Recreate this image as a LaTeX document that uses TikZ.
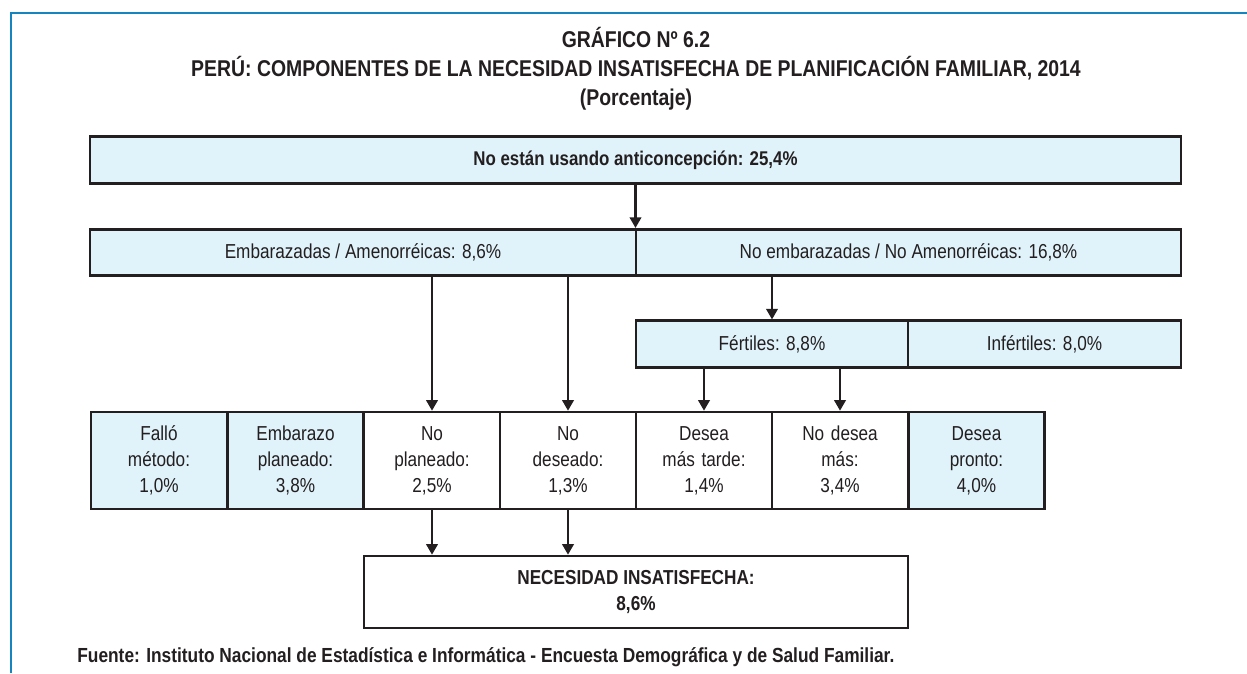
\documentclass[tikz,border=0pt]{standalone}
\usepackage{fontspec}
\setmainfont{Liberation Sans}[FakeStretch=0.85]
\usepackage{tikz}
\usetikzlibrary{positioning,arrows.meta,calc}
\definecolor{cellblue}{RGB}{224,242,250}
\definecolor{inkdark}{RGB}{35,31,32}
\definecolor{rimblue}{RGB}{22,132,190}
\tikzset{
  cell/.style={draw=inkdark,line width=1.5pt,inner sep=0pt,align=center,
    font=\fontsize{11.5}{14.8}\selectfont,text=inkdark},
  cellb/.style={cell,fill=cellblue},
  cellw/.style={cell,fill=white},
  wide/.style={minimum height=0.93cm},
  tall/.style={minimum width=2.724cm,minimum height=1.94cm,text width=2.6cm},
  flow/.style={-{Triangle[length=6pt,width=6.5pt]},line width=1.3pt,draw=inkdark},
  rim/.style={line width=1.3pt,draw=rimblue},
  ttl/.style={font=\bfseries\fontsize{13}{16.5}\selectfont,text=inkdark,align=center},
}
\begin{document}
\begin{tikzpicture}[x=0.02cm,y=-0.02cm]
  \useasboundingbox (0,0) rectangle (1247,673);
  % frame
  \draw[rim] (11,673) -- (11,13) -- (1247,13);
  % title
  \node[ttl] (title) at (636,69) {GRÁFICO Nº 6.2\\
    PERÚ: COMPONENTES DE LA NECESIDAD INSATISFECHA DE PLANIFICACIÓN FAMILIAR, 2014\\
    (Porcentaje)};
  % rows
  \node[cellb,wide,minimum width=21.82cm,font=\bfseries\fontsize{11.3}{14.8}\selectfont]
    (nouso) at (635.5,160) {No están usando anticoncepción: 25,4\%};
  \node[cellb,wide,minimum width=10.92cm] (emb) at (363,252.5) {Embarazadas / Amenorréicas: 8,6\%};
  \node[cellb,wide,minimum width=10.9cm] (noemb) at (908.5,252.5) {No embarazadas / No Amenorréicas: 16,8\%};
  \node[cellb,wide,minimum width=5.44cm] (fert) at (772,344) {Fértiles: 8,8\%};
  \node[cellb,wide,minimum width=5.46cm] (infert) at (1044.5,344) {Infértiles: 8,0\%};
  \node[cellb,tall] (fallo) at (159,460.5) {Falló\\método:\\1,0\%};
  \node[cellb,tall] (planea) at (295.5,460.5) {Embarazo\\planeado:\\3,8\%};
  \node[cellw,tall] (noplan) at (432,460.5) {No\\planeado:\\2,5\%};
  \node[cellw,tall] (nodes) at (568,460.5) {No\\deseado:\\1,3\%};
  \node[cellw,tall] (tarde) at (704,460.5) {Desea\\más tarde:\\1,4\%};
  \node[cellw,tall] (nomas) at (840,460.5) {No desea\\más:\\3,4\%};
  \node[cellb,tall] (pronto) at (976.5,460.5) {Desea\\pronto:\\4,0\%};
  \node[cellw,minimum width=10.88cm,minimum height=1.44cm,
    font=\bfseries\fontsize{11.5}{15.2}\selectfont] (nec) at (636,592)
    {NECESIDAD INSATISFECHA:\\8,6\%};
  % arrows
  \draw[flow] (nouso.south) -- (nouso.south |- emb.north);
  \draw[flow] (emb.south -| noplan) -- (noplan.north);
  \draw[flow] (emb.south -| nodes) -- (nodes.north);
  \draw[flow] (noemb.south -| fert) -- (fert.north);
  \draw[flow] (fert.south -| tarde) -- (tarde.north);
  \draw[flow] (fert.south -| nomas) -- (nomas.north);
  \draw[flow] (noplan.south) -- (noplan.south |- nec.north);
  \draw[flow] (nodes.south) -- (nodes.south |- nec.north);
  % source
  \node[anchor=west,font=\bfseries\fontsize{11.6}{14}\selectfont,text=inkdark,inner sep=0pt]
    (fuente) at (77,657) {Fuente: Instituto Nacional de Estadística e Informática - Encuesta Demográfica y de Salud Familiar.};
\end{tikzpicture}
\end{document}
